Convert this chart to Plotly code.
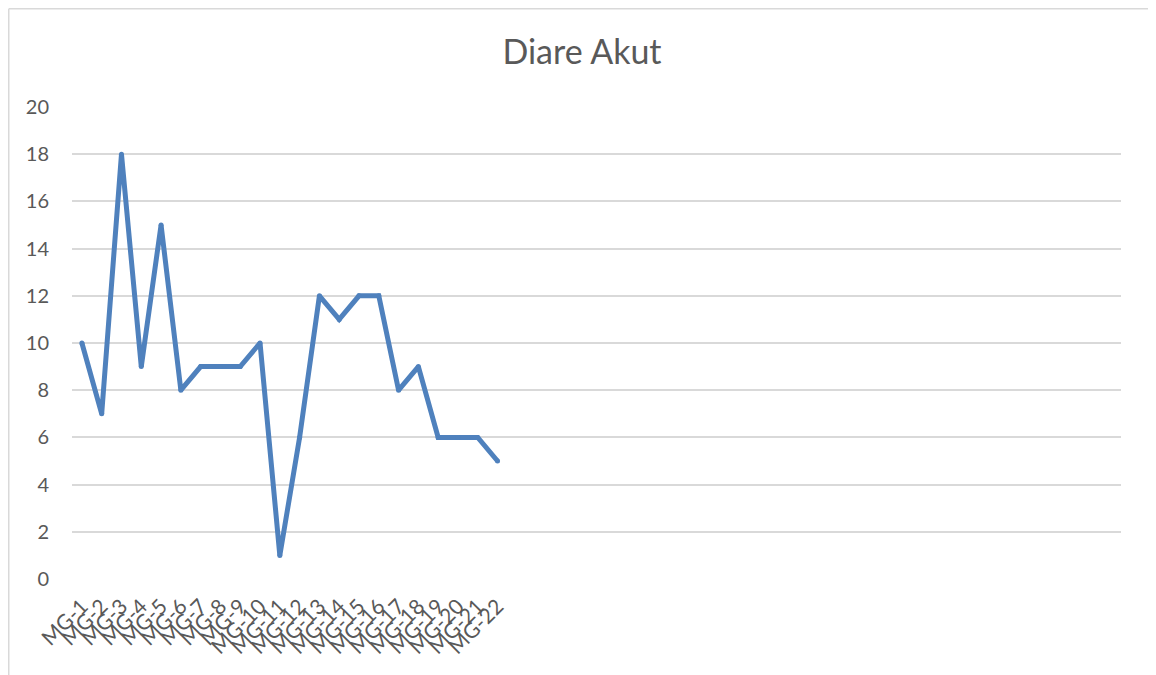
import plotly.graph_objects as go

title_text = "Diare Akut"
categories = [f"MG-{i}" for i in range(1, 23)]
values = [10, 7, 18, 9, 15, 8, 9, 9, 9, 10, 1, 6, 12, 11, 12, 12, 8, 9, 6, 6, 6, 5]
n_slots = 53
y_ticks = [0, 2, 4, 6, 8, 10, 12, 14, 16, 18, 20]

x_pos = list(range(1, len(categories) + 1))

fig = go.Figure()
fig.add_trace(go.Scatter(
    x=x_pos, y=values, mode="lines+markers",
    line=dict(color="#4f81bd", width=5),
    marker=dict(color="#4f81bd", size=5, line=dict(width=0)),
    hoverinfo="skip",
))

# page body adds 8px offset, so figure is 8px smaller
W, H = 1148, 667
ml, mr, mt, mb = 64, 35, 99, 96
pw, ph = W - ml - mr, H - mt - mb

fig.update_layout(
    width=W, height=H,
    margin=dict(l=ml, r=mr, t=mt, b=mb),
    paper_bgcolor="white", plot_bgcolor="white",
    showlegend=False,
    font=dict(family="Lato, Open Sans, sans-serif", color="#595959", size=20),
    title=dict(text=title_text, x=0.5, xref="container", xanchor="center",
               y=1 - 44 / H, yanchor="middle",
               font=dict(size=34, color="#595959")),
    xaxis=dict(
        range=[0.5, n_slots + 0.5],
        tickmode="array", tickvals=x_pos, ticktext=categories,
        tickangle=-45, showgrid=False, zeroline=False, showline=False,
        ticks="", ticklabelstandoff=10,
        tickfont=dict(size=21, color="#595959"),
    ),
    yaxis=dict(
        range=[0, 20], tickmode="array", tickvals=y_ticks,
        showgrid=True, gridcolor="#d9d9d9", gridwidth=1.5,
        zeroline=False, showline=False, ticks="",
        ticklabelstandoff=22,
        tickfont=dict(size=20, color="#595959"),
    ),
)

# chart-area border (left and top edges visible in reference)
x0 = (0.75 - ml) / pw
y_top = (H - mb - 0.75) / ph
y_bot = (H - mb - H) / ph
fig.add_shape(type="line", xref="paper", yref="paper",
              x0=x0, x1=(W - ml) / pw, y0=y_top, y1=y_top,
              line=dict(color="#d9d9d9", width=1.5))
fig.add_shape(type="line", xref="paper", yref="paper",
              x0=x0, x1=x0, y0=y_top, y1=y_bot,
              line=dict(color="#d9d9d9", width=1.5))

fig.write_html("out.html")
